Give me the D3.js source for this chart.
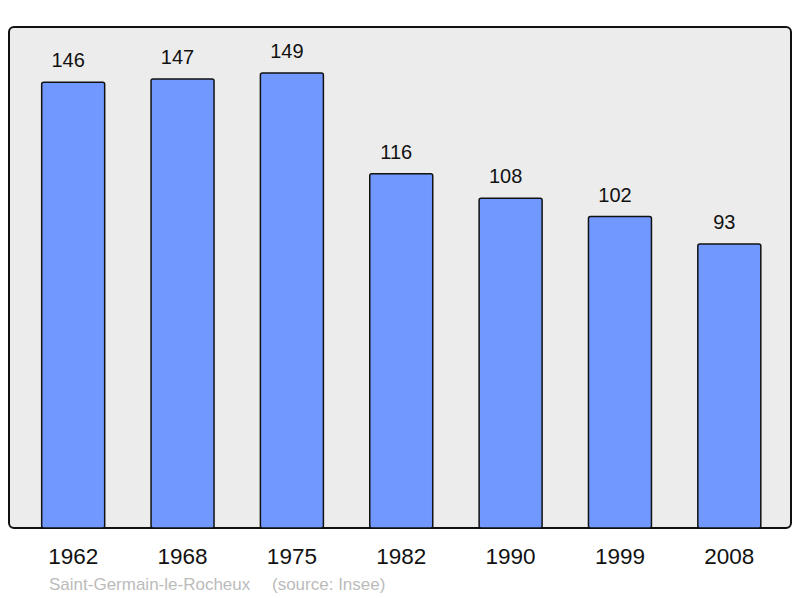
<!DOCTYPE html>
<html><head><meta charset="utf-8">
<script src="https://cdn.jsdelivr.net/npm/d3@7"></script>
<style>body{margin:0;background:#fff}svg{display:block}</style>
</head><body>
<script>
const years = ["1962","1968","1975","1982","1990","1999","2008"];
const population = [146,147,149,116,108,102,93];
const footerName = "Saint-Germain-le-Rocheux";
const footerSource = "(source: Insee)";

const W = 800, H = 598;
const svg = d3.select("body").append("svg").attr("width", W).attr("height", H);
const font = "Liberation Sans, Arial, sans-serif";

svg.append("rect").attr("x", 9).attr("y", 27).attr("width", 782).attr("height", 501)
  .attr("rx", 5).attr("fill", "#ececec").attr("stroke", "#111").attr("stroke-width", 2);

const x = d3.scaleBand().domain(years).range([18.5, 784]).paddingInner(0.424).paddingOuter(0.212);
const y = d3.scaleLinear().domain([0, 149]).range([528, 73]);

svg.selectAll("rect.bar").data(years).enter().append("rect").attr("class","bar")
  .attr("x", d => x(d)).attr("width", x.bandwidth())
  .attr("y", (d,i) => y(population[i])).attr("height", (d,i) => y(0) - y(population[i]))
  .attr("rx", 2).attr("fill", "#7098ff").attr("stroke", "#111").attr("stroke-width", 1.5);

svg.selectAll("text.val").data(years).enter().append("text").attr("class","val")
  .attr("x", d => x(d) + x.bandwidth()/2 - 5).attr("y", (d,i) => y(population[i]) - 15)
  .attr("text-anchor","middle").attr("font-family", font).attr("font-size", 20).attr("fill","#111")
  .text((d,i) => population[i]);

const xAxis = d3.axisBottom(x).tickSize(0).tickPadding(0);
const ax = svg.append("g").attr("transform", "translate(0,564)").call(xAxis);
ax.select(".domain").remove();
ax.selectAll("text").attr("font-family", font).attr("font-size", 22.5).attr("fill","#111").attr("dy", 0);

svg.append("text").attr("x", 49).attr("y", 590).attr("font-family", font).attr("font-size", 17)
  .attr("fill", "#bbb").text(footerName);
svg.append("text").attr("x", 272).attr("y", 590).attr("font-family", font).attr("font-size", 17)
  .attr("fill", "#bbb").text(footerSource);
</script>
</body></html>
